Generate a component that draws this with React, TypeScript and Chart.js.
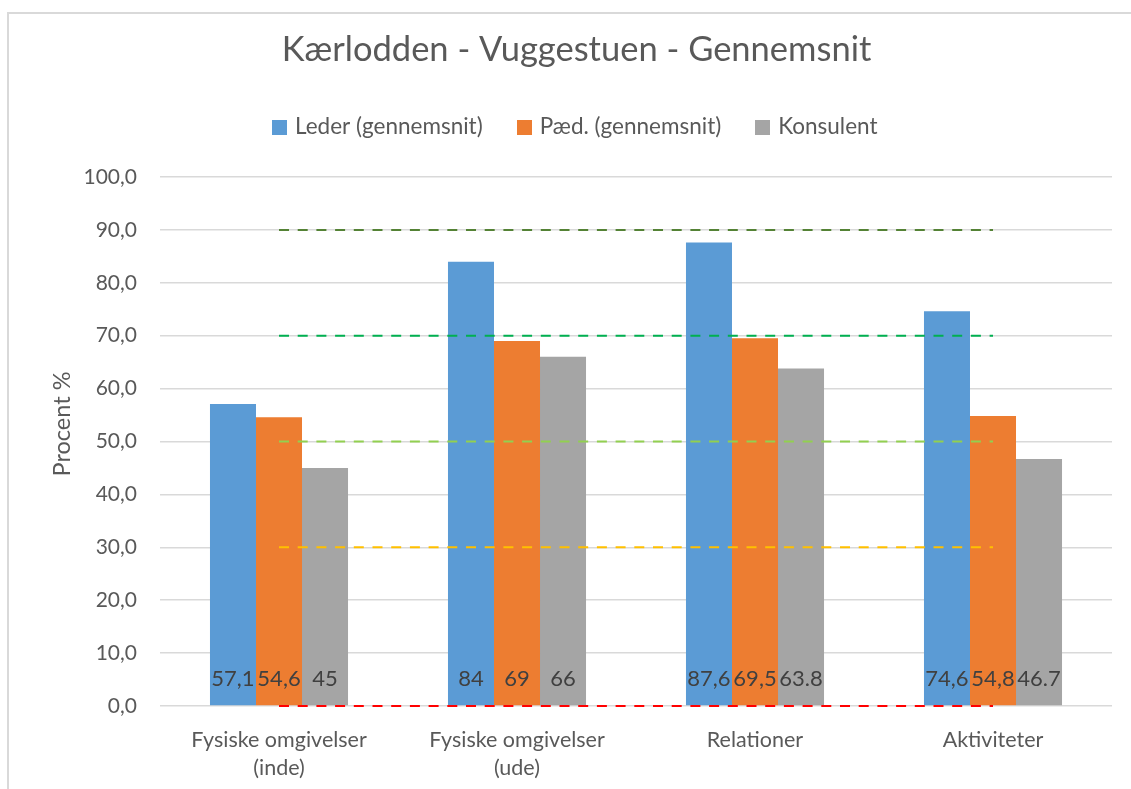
import React, { useEffect, useRef } from 'react';
import { Chart, registerables } from 'chart.js';

Chart.register(...registerables);

// ---- data ----
const chartTitle = 'Kærlodden - Vuggestuen - Gennemsnit';
const yAxisTitle = 'Procent %';
const categories: (string | string[])[] = [
  ['Fysiske omgivelser', '(inde)'],
  ['Fysiske omgivelser', '(ude)'],
  'Relationer',
  'Aktiviteter',
];
const seriesNames = ['Leder (gennemsnit)', 'Pæd. (gennemsnit)', 'Konsulent'];
const lederValues = [57.1, 84, 87.6, 74.6];
const paedValues = [54.6, 69, 69.5, 54.8];
const konsulentValues = [45, 66, 63.8, 46.7];
const lederLabels = ['57,1', '84', '87,6', '74,6'];
const paedLabels = ['54,6', '69', '69,5', '54,8'];
const konsulentLabels = ['45', '66', '63.8', '46.7'];
const yTickLabels = ['0,0', '10,0', '20,0', '30,0', '40,0', '50,0', '60,0', '70,0', '80,0', '90,0', '100,0'];
const line90 = [90, 90, 90, 90];
const line70 = [70, 70, 70, 70];
const line50 = [50, 50, 50, 50];
const line30 = [30, 30, 30, 30];
const line0 = [0, 0, 0, 0];

const FONT = 'Lato, "Open Sans", sans-serif';
const TEXT = '#595959';
const barColors = ['#5b9bd5', '#ed7d31', '#a5a5a5'];
const barLabels = [lederLabels, paedLabels, konsulentLabels];

const dataLabelPlugin = {
  id: 'barBaseLabels',
  afterDatasetsDraw(chart: any) {
    const ctx = chart.ctx;
    ctx.save();
    ctx.font = `22px ${FONT}`;
    ctx.fillStyle = '#404040';
    ctx.textAlign = 'center';
    ctx.textBaseline = 'middle';
    chart.data.datasets.forEach((ds: any, di: number) => {
      if (ds.type !== 'bar') return;
      const meta = chart.getDatasetMeta(di);
      const labels = barLabels[ds.seriesIndex];
      meta.data.forEach((bar: any, i: number) => {
        ctx.fillText(labels[i], bar.x, bar.base - 26);
      });
    });
    ctx.restore();
  },
};

const yTitlePlugin = {
  id: 'yTitle',
  afterDraw(chart: any) {
    const ctx = chart.ctx;
    ctx.save();
    ctx.translate(53, 410);
    ctx.rotate(-Math.PI / 2);
    ctx.font = `23.5px ${FONT}`;
    ctx.fillStyle = TEXT;
    ctx.textAlign = 'center';
    ctx.textBaseline = 'middle';
    ctx.fillText(yAxisTitle, 0, 0);
    ctx.restore();
  },
};

function dashed(data: number[], color: string) {
  return {
    type: 'line' as const,
    label: '',
    data,
    borderColor: color,
    backgroundColor: color,
    borderWidth: 2,
    borderDash: [10, 8.7],
    pointRadius: 0,
    fill: false,
    clip: false,
    order: 0,
    isRef: true,
  };
}

function swatch(color: string) {
  const c = document.createElement('canvas');
  c.width = 15;
  c.height = 15;
  const g = c.getContext('2d');
  if (g) {
    g.fillStyle = color;
    g.fillRect(0, 0, 15, 15);
  }
  return c;
}

export default function App() {
  const canvasRef = useRef<HTMLCanvasElement>(null);

  useEffect(() => {
    if (!canvasRef.current) return;
    const swatches = barColors.map(swatch);
    const chart = new Chart(canvasRef.current, {
      type: 'bar',
      data: {
        labels: categories as any,
        datasets: [
          { type: 'bar', label: seriesNames[0], data: lederValues, backgroundColor: barColors[0], order: 1, seriesIndex: 0 } as any,
          { type: 'bar', label: seriesNames[1], data: paedValues, backgroundColor: barColors[1], order: 1, seriesIndex: 1 } as any,
          { type: 'bar', label: seriesNames[2], data: konsulentValues, backgroundColor: barColors[2], order: 1, seriesIndex: 2 } as any,
          dashed(line90, '#548235') as any,
          dashed(line70, '#00b050') as any,
          dashed(line50, '#92d050') as any,
          dashed(line30, '#ffc000') as any,
          dashed(line0, '#ff0000') as any,
        ],
      },
      options: {
        responsive: false,
        animation: false,
        layout: { padding: { left: 32, right: 19, top: 0, bottom: 0 } },
        datasets: {
          bar: { categoryPercentage: 0.58, barPercentage: 1.0 },
        },
        plugins: {
          tooltip: { enabled: false },
          title: {
            display: true,
            text: chartTitle,
            color: TEXT,
            font: { family: FONT, size: 34.5, weight: 'normal', lineHeight: 1.2 },
            padding: { top: 15.3, bottom: 7.55 },
          },
          subtitle: {
            display: true,
            text: '',
            position: 'top',
            weight: 500,
            font: { size: 10, lineHeight: 1 },
            padding: { top: 0, bottom: 18.75 },
          } as any,
          legend: {
            display: true,
            position: 'top',
            labels: {
              color: TEXT,
              font: { family: FONT, size: 22.5 },
              usePointStyle: true,
              pointStyleWidth: 8.2,
              boxHeight: 15,
              padding: 37.5,
              generateLabels: (ch: any) => {
                const items = Chart.defaults.plugins.legend.labels.generateLabels(ch);
                return items
                  .filter((it: any) => !ch.data.datasets[it.datasetIndex].isRef)
                  .map((it: any) => ({
                    ...it,
                    pointStyle: swatches[ch.data.datasets[it.datasetIndex].seriesIndex],
                  }));
              },
            },
          },
        },
        scales: {
          x: {
            grid: { display: false },
            border: { display: false },
            ticks: {
              color: TEXT,
              font: { family: FONT, size: 21.5, lineHeight: 1.3 },
              padding: 12.5,
              maxRotation: 0,
            },
            afterFit: (scale: any) => {
              scale.height = 83;
            },
          },
          y: {
            min: 0,
            max: 100,
            grid: { color: '#d9d9d9', lineWidth: 1.5, drawTicks: false },
            border: { display: false },
            ticks: {
              stepSize: 10,
              color: TEXT,
              font: { family: FONT, size: 21 },
              padding: 23,
              callback: (_v: any, i: number) => yTickLabels[i],
            },
            afterFit: (scale: any) => {
              scale.width = 119;
            },
          },
        },
      } as any,
      plugins: [dataLabelPlugin, yTitlePlugin],
    });
    return () => chart.destroy();
  }, []);

  return (
    <div
      style={{
        position: 'absolute',
        left: 7,
        top: 12,
        width: 1124,
        height: 777,
        boxSizing: 'border-box',
        borderLeft: '2px solid #d9d9d9',
        borderTop: '2px solid #d9d9d9',
        background: '#fff',
        overflow: 'hidden',
      }}
    >
      <canvas ref={canvasRef} width={1122} height={775} style={{ display: 'block' }} />
    </div>
  );
}
